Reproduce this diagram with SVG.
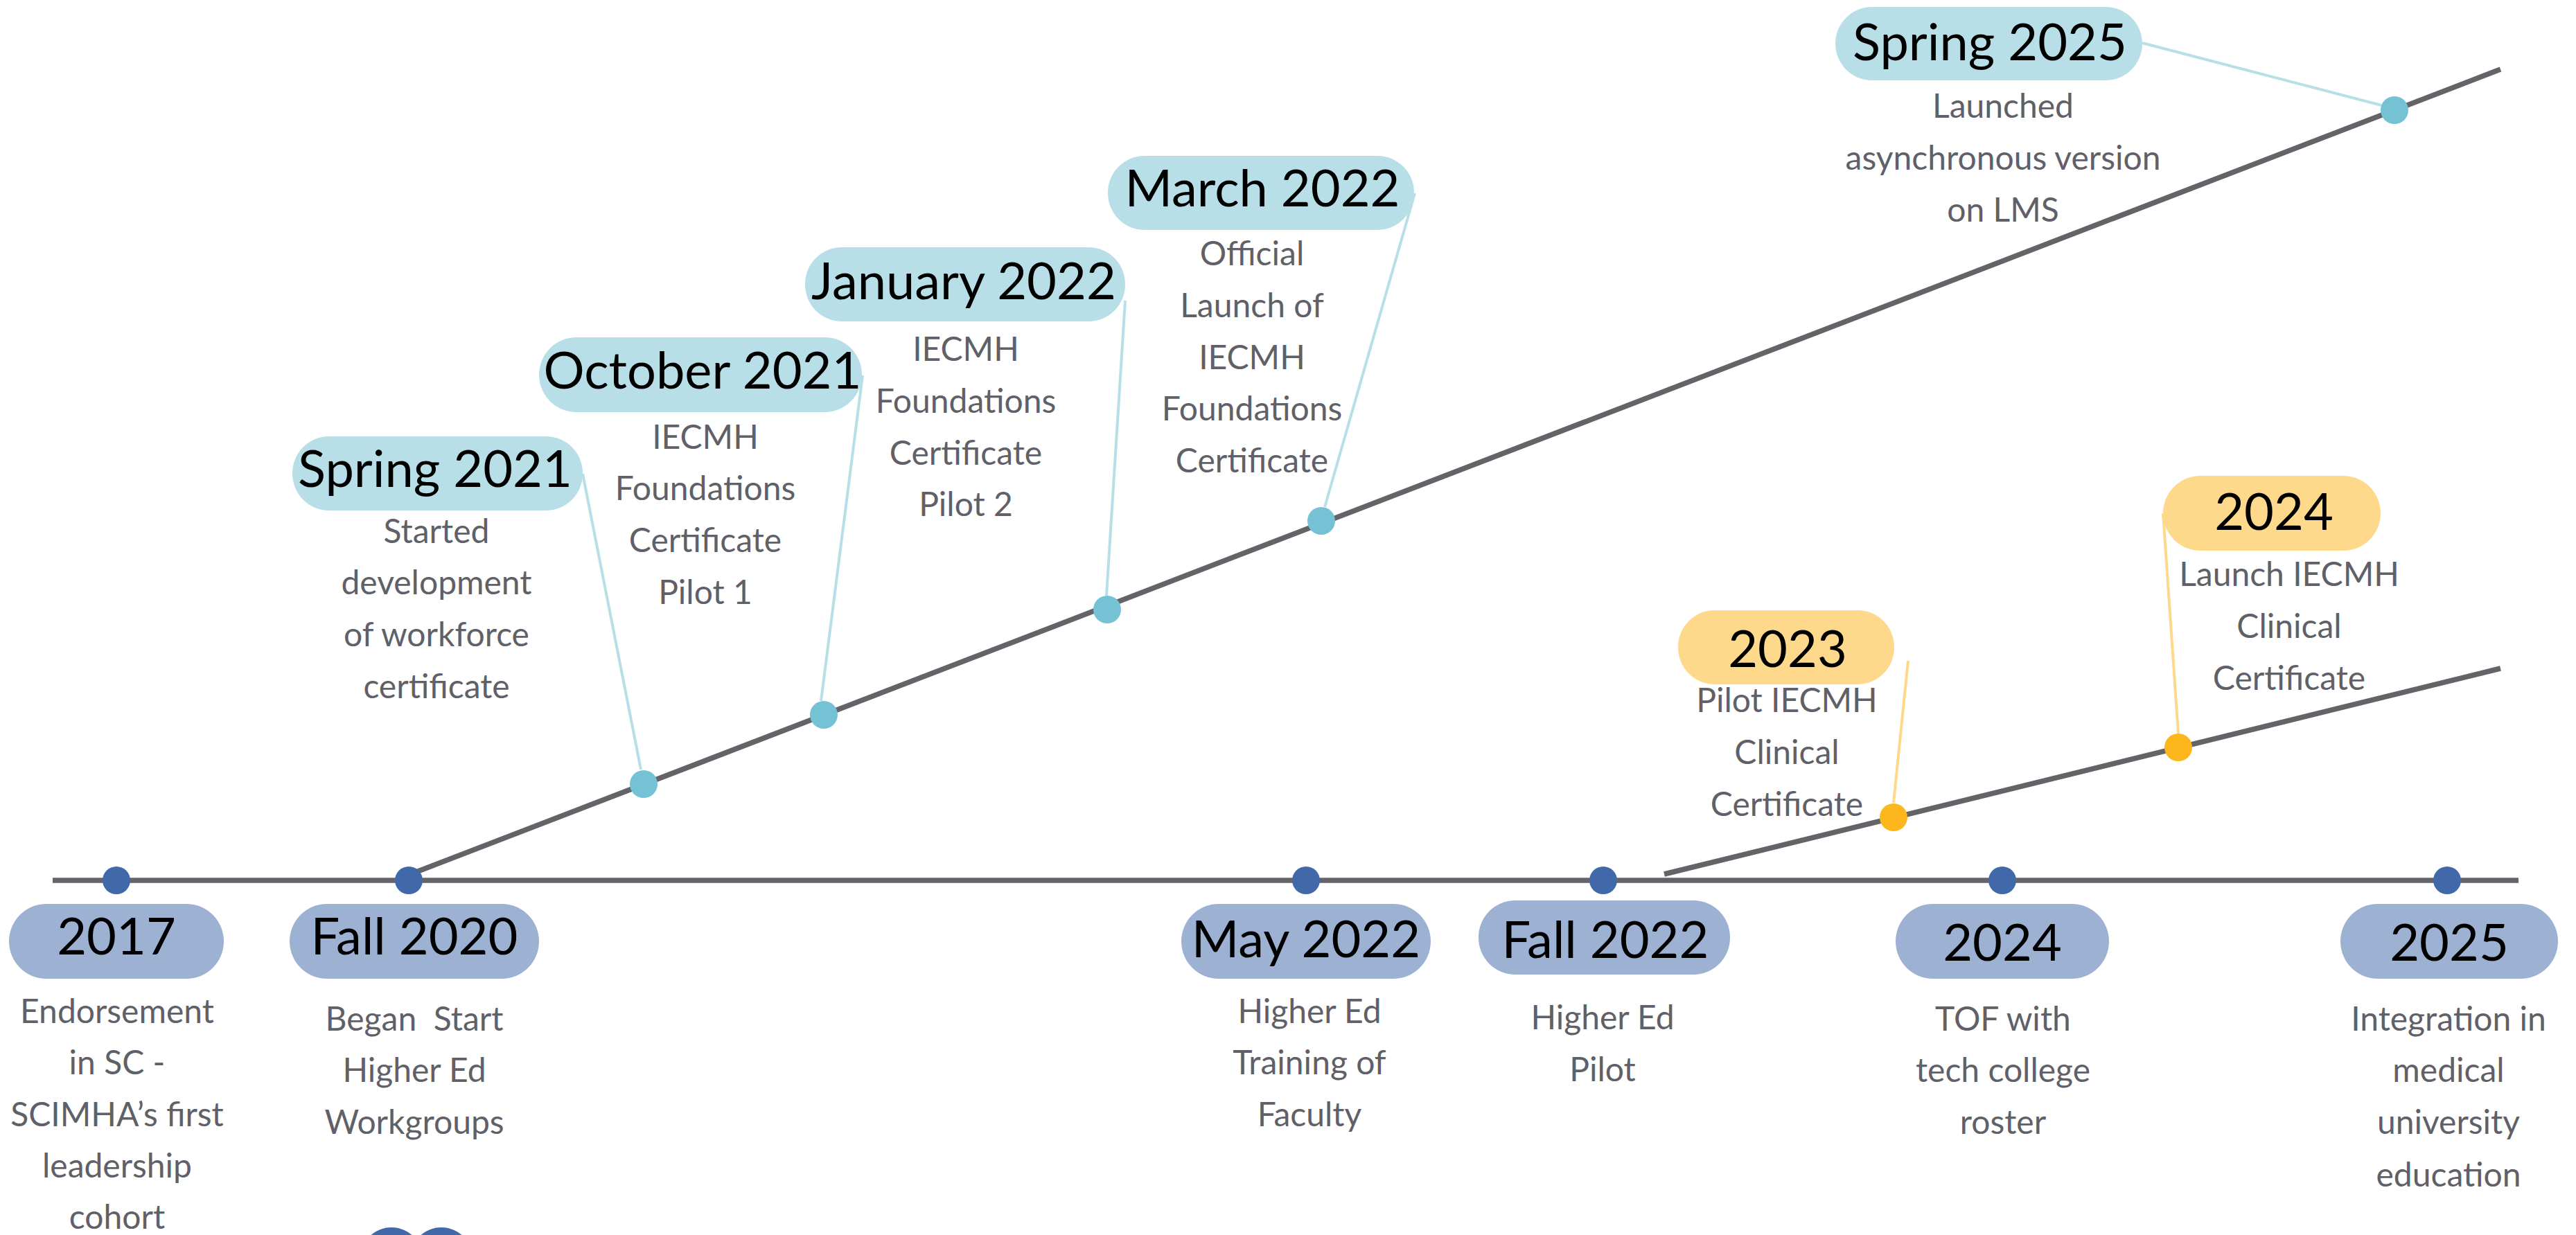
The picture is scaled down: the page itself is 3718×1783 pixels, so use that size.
<svg xmlns="http://www.w3.org/2000/svg" width="3718" height="1783" viewBox="0 0 3718 1783">
<style>
.t{font-family:Lato,"Open Sans","Liberation Sans",sans-serif;font-size:74px;fill:#000;text-anchor:middle}
.d{font-family:Lato,"Open Sans","Liberation Sans",sans-serif;font-size:48px;fill:#606068;text-anchor:middle}
.pb{fill:#9DB2D3}
.pu{fill:#B8DFE8}
.py{fill:#FED98C}
.db{fill:#4169AA}
.du{fill:#74C2D4}
.dy{fill:#FBB71C}
.line{stroke:#636368;stroke-width:7.5;fill:none}
.lu{stroke:#B8DFE8;stroke-width:4;fill:none}
.ly{stroke:#FED98C;stroke-width:4;fill:none}
</style>
<rect width="3718" height="1783" fill="#fff"/>
<g id="connectors">
<line class="line" x1="76" y1="1271" x2="3635" y2="1271"/>
<line class="line" x1="590" y1="1263" x2="3609" y2="100"/>
<line class="line" x1="2402" y1="1262" x2="3609" y2="965"/>
<line class="lu" x1="841" y1="684" x2="925" y2="1111"/>
<line class="lu" x1="1245" y1="542" x2="1185" y2="1012"/>
<line class="lu" x1="1624" y1="434" x2="1597" y2="860"/>
<line class="lu" x1="2042" y1="279" x2="1912" y2="732"/>
<line class="lu" x1="3092" y1="62" x2="3437" y2="152"/>
<line class="ly" x1="2754" y1="954" x2="2733" y2="1159"/>
<line class="ly" x1="3122" y1="741" x2="3144" y2="1059"/>
</g>
<g id="n2017">
<circle class="db" cx="168" cy="1271" r="20"/>
<rect class="pb" x="13" y="1305" width="310" height="108" rx="54"/>
<text class="t" x="168" y="1378">2017</text>
<text class="d" x="169"><tspan x="169" y="1477">Endorsement</tspan><tspan x="169" y="1551">in SC -</tspan><tspan x="169" y="1626">SCIMHA’s first</tspan><tspan x="169" y="1700">leadership</tspan><tspan x="169" y="1774">cohort</tspan></text>
</g>
<g id="nFall2020">
<circle class="db" cx="590" cy="1271" r="20"/>
<rect class="pb" x="418" y="1305" width="360" height="108" rx="54"/>
<text class="t" x="598" y="1378">Fall 2020</text>
<text class="d" xml:space="preserve"><tspan x="598" y="1488">Began  Start</tspan><tspan x="598" y="1562">Higher Ed</tspan><tspan x="598" y="1637">Workgroups</tspan></text>
<circle class="db" cx="565" cy="1817" r="45"/>
<circle class="db" cx="637" cy="1817" r="45"/>
</g>
<g id="nMay2022">
<circle class="db" cx="1885" cy="1271" r="20"/>
<rect class="pb" x="1705" y="1305" width="360" height="108" rx="54"/>
<text class="t" x="1885" y="1382">May 2022</text>
<text class="d"><tspan x="1890" y="1477">Higher Ed</tspan><tspan x="1890" y="1551">Training of</tspan><tspan x="1890" y="1626">Faculty</tspan></text>
</g>
<g id="nFall2022">
<circle class="db" cx="2314" cy="1271" r="20"/>
<rect class="pb" x="2134" y="1300" width="363" height="107" rx="53"/>
<text class="t" x="2317" y="1383">Fall 2022</text>
<text class="d"><tspan x="2313" y="1486">Higher Ed</tspan><tspan x="2313" y="1561">Pilot</tspan></text>
</g>
<g id="n2024">
<circle class="db" cx="2890" cy="1271" r="20"/>
<rect class="pb" x="2736" y="1305" width="308" height="108" rx="54"/>
<text class="t" x="2890" y="1387">2024</text>
<text class="d"><tspan x="2891" y="1488">TOF with</tspan><tspan x="2891" y="1562">tech college</tspan><tspan x="2891" y="1637">roster</tspan></text>
</g>
<g id="n2025">
<circle class="db" cx="3532" cy="1271" r="20"/>
<rect class="pb" x="3378" y="1305" width="314" height="108" rx="54"/>
<text class="t" x="3535" y="1387">2025</text>
<text class="d"><tspan x="3534" y="1488">Integration in</tspan><tspan x="3534" y="1562">medical</tspan><tspan x="3534" y="1637">university</tspan><tspan x="3534" y="1713">education</tspan></text>
</g>
<g id="nSpring2021">
<circle class="du" cx="929" cy="1132" r="20"/>
<rect class="pu" x="422" y="630" width="419" height="107" rx="53"/>
<text class="t" x="628" y="703">Spring 2021</text>
<text class="d"><tspan x="630" y="784">Started</tspan><tspan x="630" y="858">development</tspan><tspan x="630" y="933">of workforce</tspan><tspan x="630" y="1008">certificate</tspan></text>
</g>
<g id="nOct2021">
<circle class="du" cx="1189" cy="1032" r="20"/>
<rect class="pu" x="778" y="487" width="466" height="108" rx="54"/>
<text class="t" x="1014" y="561">October 2021</text>
<text class="d"><tspan x="1018" y="648">IECMH</tspan><tspan x="1018" y="722">Foundations</tspan><tspan x="1018" y="797">Certificate</tspan><tspan x="1018" y="872">Pilot 1</tspan></text>
</g>
<g id="nJan2022">
<circle class="du" cx="1598" cy="880" r="20"/>
<rect class="pu" x="1162" y="357" width="462" height="107" rx="53"/>
<text class="t" x="1391" y="432">January 2022</text>
<text class="d"><tspan x="1394" y="521">IECMH</tspan><tspan x="1394" y="596">Foundations</tspan><tspan x="1394" y="671">Certificate</tspan><tspan x="1394" y="745">Pilot 2</tspan></text>
</g>
<g id="nMar2022">
<circle class="du" cx="1907" cy="752" r="20"/>
<rect class="pu" x="1599" y="225" width="442" height="107" rx="53"/>
<text class="t" x="1822" y="298">March 2022</text>
<text class="d"><tspan x="1807" y="383">Official</tspan><tspan x="1807" y="458">Launch of</tspan><tspan x="1807" y="533">IECMH</tspan><tspan x="1807" y="607">Foundations</tspan><tspan x="1807" y="682">Certificate</tspan></text>
</g>
<g id="nSpring2025">
<circle class="du" cx="3456" cy="159" r="20"/>
<rect class="pu" x="2649" y="10" width="443" height="106" rx="53"/>
<text class="t" x="2872" y="87">Spring 2025</text>
<text class="d"><tspan x="2891" y="170">Launched</tspan><tspan x="2891" y="245">asynchronous version</tspan><tspan x="2891" y="320">on LMS</tspan></text>
</g>
<g id="n2023">
<circle class="dy" cx="2733" cy="1180" r="20"/>
<rect class="py" x="2422" y="881" width="312" height="107" rx="53"/>
<text class="t" x="2580" y="963">2023</text>
<text class="d"><tspan x="2579" y="1028">Pilot IECMH</tspan><tspan x="2579" y="1103">Clinical</tspan><tspan x="2579" y="1178">Certificate</tspan></text>
</g>
<g id="n2024y">
<circle class="dy" cx="3144" cy="1079" r="20"/>
<rect class="py" x="3122" y="687" width="314" height="108" rx="54"/>
<text class="t" x="3282" y="765">2024</text>
<text class="d"><tspan x="3304" y="846">Launch IECMH</tspan><tspan x="3304" y="921">Clinical</tspan><tspan x="3304" y="996">Certificate</tspan></text>
</g>
</svg>
